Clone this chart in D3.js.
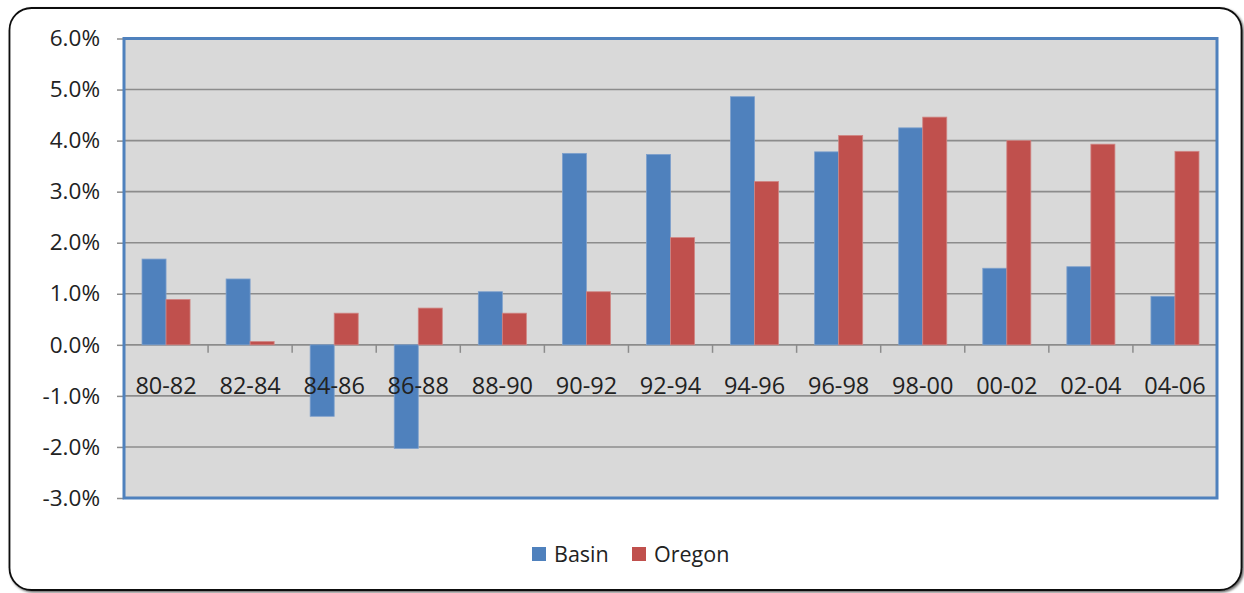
<!DOCTYPE html>
<html>
<head>
<meta charset="utf-8">
<script src="https://cdn.jsdelivr.net/npm/d3@7"></script>
<style>
  html, body { margin: 0; padding: 0; background: #ffffff; }
  svg { display: block; font-family: "Open Sans", "Liberation Sans", Arial, sans-serif; }
</style>
</head>
<body>
<svg id="chart" width="1244" height="593"></svg>
<script>
// Two-year growth rates, in percent
const periods = ["80-82","82-84","84-86","86-88","88-90","90-92","92-94","94-96","96-98","98-00","00-02","02-04","04-06"];
const basin  = [1.68, 1.29, -1.40, -2.03, 1.04, 3.75, 3.73, 4.86, 3.78, 4.25, 1.50, 1.53, 0.95];
const oregon = [0.89, 0.065, 0.62, 0.72, 0.62, 1.04, 2.10, 3.20, 4.10, 4.46, 4.00, 3.93, 3.79];
const seriesNames = ["Basin", "Oregon"];
const seriesColors = ["#4F81BD", "#C0504D"];
const yTicks = [-3, -2, -1, 0, 1, 2, 3, 4, 5, 6];

const FONT = "'Open Sans', 'Liberation Sans', Arial, sans-serif";
const svg = d3.select("#chart");

// Defs: soft shadow for the outer frame
const defs = svg.append("defs");
const f = defs.append("filter").attr("id", "frameShadow").attr("x", "-5%").attr("y", "-5%").attr("width", "110%").attr("height", "110%");
f.append("feDropShadow").attr("dx", 1.5).attr("dy", 1.5).attr("stdDeviation", 1).attr("flood-color", "#000").attr("flood-opacity", 0.6);

// Outer rounded frame
svg.append("rect")
  .attr("x", 9.5).attr("y", 8).attr("width", 1232).attr("height", 582)
  .attr("rx", 22).attr("ry", 22)
  .attr("fill", "#ffffff").attr("stroke", "#111").attr("stroke-width", 1.8)
  .attr("filter", "url(#frameShadow)");

const plot = { left: 124, top: 38.5, right: 1217, bottom: 498 };

const x = d3.scaleBand().domain(periods).range([plot.left, plot.right]).paddingInner(0).paddingOuter(0);
const y = d3.scaleLinear().domain([-3, 6]).range([plot.bottom, plot.top]);

// Excel-style clustering: gap width 150% of a bar
const barW = x.bandwidth() / 3.5;
const xs = d3.scaleBand().domain(seriesNames).range([0, barW * 2]);

// Plot background
svg.append("rect")
  .attr("x", plot.left).attr("y", plot.top)
  .attr("width", plot.right - plot.left).attr("height", plot.bottom - plot.top)
  .attr("fill", "#D9D9D9");

// Horizontal gridlines
svg.append("g").selectAll("line").data(yTicks).join("line")
  .attr("x1", plot.left).attr("x2", plot.right)
  .attr("y1", d => y(d)).attr("y2", d => y(d))
  .attr("stroke", "#8C8C8C").attr("stroke-width", 1.6);

// Y axis ticks and labels
const yAxis = d3.axisLeft(y).tickValues(yTicks).tickSize(7).tickPadding(17)
  .tickFormat(d => d3.format(".1f")(d).replace("−", "-") + "%");
const yg = svg.append("g").attr("transform", `translate(${plot.left},0)`).call(yAxis);
yg.select(".domain").remove();
yg.selectAll(".tick line").attr("stroke", "#8C8C8C").attr("stroke-width", 1.5);
yg.selectAll(".tick text").attr("font-size", 22.5).attr("fill", "#222")
  .attr("font-family", FONT);

// Bars
const groups = svg.append("g").selectAll("g").data(periods).join("g")
  .attr("transform", d => `translate(${x(d) + (x.bandwidth() - barW * 2) / 2},0)`);
groups.selectAll("rect")
  .data((p, i) => [basin[i], oregon[i]].map((v, k) => ({ name: seriesNames[k], v, color: seriesColors[k] })))
  .join("rect")
  .attr("x", d => xs(d.name))
  .attr("width", xs.bandwidth())
  .attr("y", d => y(Math.max(0, d.v)))
  .attr("height", d => Math.abs(y(d.v) - y(0)))
  .attr("fill", d => d.color)
  .attr("stroke", d => d.name === "Basin" ? "#7EA0CC" : "#D08583")
  .attr("stroke-width", 0.8);

// Category axis along zero
const xAxis = d3.axisBottom(x).tickSize(0).tickPadding(0);
const xg = svg.append("g").attr("transform", `translate(0,${y(0)})`).call(xAxis);
xg.select(".domain").remove();
xg.selectAll(".tick text").attr("font-size", 23.5).attr("fill", "#222")
  .attr("dy", 0).attr("y", 49)
  .attr("font-family", FONT);
// Tick marks between categories
svg.append("g").selectAll("line").data(periods.slice(1)).join("line")
  .attr("x1", d => x(d)).attr("x2", d => x(d))
  .attr("y1", y(0)).attr("y2", y(0) + 8)
  .attr("stroke", "#8C8C8C").attr("stroke-width", 1.5);

// Plot-area border
svg.append("rect")
  .attr("x", plot.left).attr("y", plot.top)
  .attr("width", plot.right - plot.left).attr("height", plot.bottom - plot.top)
  .attr("fill", "none").attr("stroke", "#4F81BD").attr("stroke-width", 3);

// Legend
const legend = svg.append("g").attr("transform", "translate(532,547)");
const legendX = [0, 100];
seriesNames.forEach((name, i) => {
  const g = legend.append("g").attr("transform", `translate(${legendX[i]},0)`);
  g.append("rect").attr("width", 14).attr("height", 14).attr("fill", seriesColors[i]);
  g.append("text").attr("x", 22).attr("y", 14.5).attr("font-size", 21.5).attr("fill", "#222")
    .attr("font-family", FONT).text(name);
});
</script>
</body>
</html>
